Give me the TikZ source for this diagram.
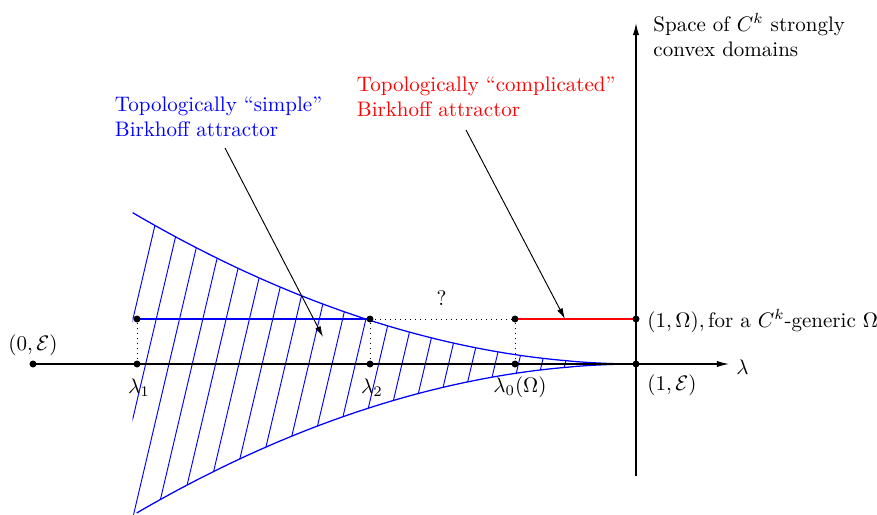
\documentclass[tikz,border=0pt]{standalone}
\usetikzlibrary{arrows.meta}
\begin{document}
\begin{tikzpicture}[x=0.476pt,y=-0.476pt,
  dot/.style={circle,fill=black,inner sep=0pt,minimum size=3.1pt},
  axisline/.style={line width=0.55pt,-{Latex[length=5.8pt,width=3pt]}},
  callout/.style={line width=0.45pt,-{Latex[length=5.2pt,width=2.8pt]}},
  hatchline/.style={blue,line width=0.45pt},
  bluecurve/.style={blue,line width=0.6pt},
  lbl/.style={inner sep=0pt,anchor=base},
  lblw/.style={inner sep=0pt,anchor=base west,align=left}]
\useasboundingbox (0,0) rectangle (877,514);
% hatched region
\begin{scope}
\clip plot[domain=503.3:0.5,samples=60,variable=\d] ({636-\d},{364-151.3*pow(\d/503.3,1.95)})
  -- (636,364)
  -- plot[domain=0.5:503.3,samples=60,variable=\d] ({636-\d},{364+151.3*pow(\d/503.3,1.95)})
  -- cycle;
\foreach \k in {0,...,22}
  \draw[hatchline] ({85.7+23.3*\k},520) -- ({160.9+23.3*\k},200);
\end{scope}
% nodes
\node[dot] (E0) at (33,364) {};
\node[dot] (l1) at (137,364) {};
\node[dot] (l2) at (370,364) {};
\node[dot] (l0) at (515,364) {};
\node[dot] (E1) at (636,364) {};
\node[dot] (u1) at (137,319) {};
\node[dot] (u2) at (370,319) {};
\node[dot] (u0) at (515,319) {};
\node[dot] (O1) at (636,319) {};
\coordinate (xend) at (729,364);
\coordinate (ybot) at (636,476);
\coordinate (ytop) at (636,23);
% boundary curves
\draw[bluecurve] plot[domain=503.3:0.5,samples=60,variable=\d] ({636-\d},{364-151.3*pow(\d/503.3,1.95)}) -- (E1.center);
\draw[bluecurve] plot[domain=499.3:0.5,samples=60,variable=\d] ({636-\d},{364+151.3*pow(\d/503.3,1.95)}) -- (E1.center);
% axes
\draw[axisline] (E0.center) -- (xend);
\draw[axisline] (ybot) -- (ytop);
% horizontal level
\draw[bluecurve] (u1.center) -- (u2.center);
\draw[dotted] (u2.center) -- (u0.center);
\draw[red,line width=0.6pt] (u0.center) -- (O1.center);
\draw[dotted] (l1.center) -- (u1.center);
\draw[dotted] (l2.center) -- (u2.center);
\draw[dotted] (l0.center) -- (u0.center);
% redraw dots on top
\foreach \n in {E0,l1,l2,l0,E1,u1,u2,u0,O1} \fill (\n) circle[radius=1.6pt];
% labels
\node[lbl] (tE0) at (33,350) {$(0,\mathcal{E})$};
\node[lbl] (tl1) at (139,393) {$\lambda_1$};
\node[lbl] (tl2) at (372,393) {$\lambda_2$};
\node[lbl] (tl0) at (520,392) {$\lambda_0(\Omega)$};
\node[lblw] (tE1) at (647,390) {$(1,\mathcal{E})$};
\node[lblw] (tO1) at (647,327) {$(1,\Omega),\mbox{for a }C^k\mbox{-generic }\Omega$};
\node[lblw] (tlam) at (736,374) {$\lambda$};
\node[lbl] (tq) at (441.5,305) {?};
\node[lblw] (tspace) at (653,56.7) {Space of $C^k$ strongly\\convex domains};
\node[lblw,blue] (tsimple) at (114.5,136.7) {Topologically ``simple''\\Birkhoff attractor};
\node[lblw,red] (tcompl) at (356.5,116.7) {Topologically ``complicated''\\Birkhoff attractor};
% callout arrows
\coordinate (bs) at (225,148);
\coordinate (bt) at (323,337);
\coordinate (rs) at (466,130);
\coordinate (rt) at (565,319);
\draw[callout] (bs) -- (bt);
\draw[callout] (rs) -- (rt);
\end{tikzpicture}
\end{document}
